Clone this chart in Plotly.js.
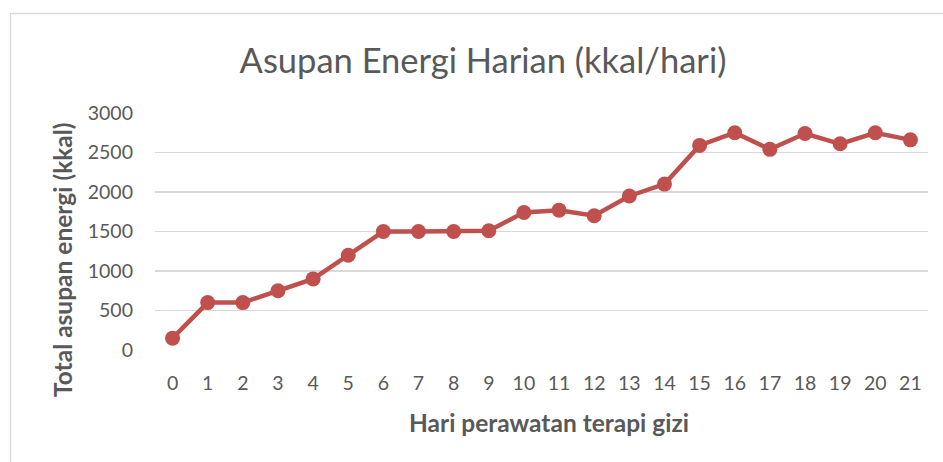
<!DOCTYPE html>
<html>
<head>
<meta charset="utf-8">
<script src="https://cdn.plot.ly/plotly-3.0.1.min.js"></script>
<style>
  html, body { margin: 0; padding: 0; background: #ffffff; }
  #chart { width: 943px; height: 462px; }
</style>
</head>
<body>
<div id="chart"></div>
<script>
const days = [0,1,2,3,4,5,6,7,8,9,10,11,12,13,14,15,16,17,18,19,20,21];
const energy = [150,600,600,750,900,1200,1500,1500,1500,1510,1740,1770,1700,1950,2100,2590,2750,2540,2740,2610,2750,2660];
const yTicks = [0,500,1000,1500,2000,2500,3000];

const chartTitle = 'Asupan Energi Harian (kkal/hari)';
const xTitle = 'Hari perawatan terapi gizi';
const yTitle = 'Total asupan energi (kkal)';

const FONT = 'Lato, Carlito, Calibri, "Open Sans", sans-serif';
const GREY = '#595959';
const RED = '#C0504D';

const trace = {
  x: days,
  y: energy,
  type: 'scatter',
  mode: 'lines+markers',
  line: { color: RED, width: 4.5 },
  marker: { color: RED, size: 15 },
  hoverinfo: 'x+y'
};

const layout = {
  width: 943,
  height: 462,
  margin: { l: 155, r: 15, t: 113, b: 112 },
  paper_bgcolor: '#ffffff',
  plot_bgcolor: '#ffffff',
  showlegend: false,
  font: { family: FONT, color: GREY, size: 19 },
  title: {
    text: chartTitle,
    font: { family: FONT, size: 34.5, color: GREY },
    x: (483 - 155) / 773, xref: 'paper', xanchor: 'center',
    y: 0.868, yref: 'container', yanchor: 'middle'
  },
  xaxis: {
    range: [-0.5, 21.5],
    tickmode: 'array',
    tickvals: days,
    ticktext: days.map(String),
    showgrid: false,
    zeroline: false,
    showline: false,
    ticks: '',
    ticklabelstandoff: 19,
    tickfont: { family: FONT, size: 19.5, color: GREY },
    fixedrange: true
  },
  yaxis: {
    range: [0, 3000],
    tickmode: 'array',
    tickvals: yTicks,
    ticktext: yTicks.map(String),
    showgrid: true,
    gridcolor: '#D9D9D9',
    gridwidth: 1.3,
    zeroline: false,
    showline: false,
    ticks: '',
    ticklabelstandoff: 21,
    tickfont: { family: FONT, size: 19.5, color: GREY },
    fixedrange: true
  },
  annotations: [
    {
      text: '<b>' + xTitle + '</b>',
      xref: 'paper', yref: 'paper',
      x: (549 - 155) / 773, y: (350 - 422) / 237,
      xanchor: 'center', yanchor: 'middle',
      showarrow: false,
      font: { family: FONT, size: 24.5, color: GREY }
    },
    {
      text: '<b>' + yTitle + '</b>',
      xref: 'paper', yref: 'paper',
      x: (62 - 155) / 773, y: (350 - 260) / 237,
      xanchor: 'center', yanchor: 'middle',
      textangle: -90,
      showarrow: false,
      font: { family: FONT, size: 24.5, color: GREY }
    }
  ],
  shapes: [
    {
      type: 'rect', xref: 'paper', yref: 'paper',
      x0: (10.5 - 155) / 773, x1: (960 - 155) / 773,
      y0: (350 - 480) / 237, y1: (350 - 13.5) / 237,
      line: { color: '#D9D9D9', width: 1.3 },
      fillcolor: 'rgba(0,0,0,0)',
      layer: 'below'
    }
  ]
};

Plotly.newPlot('chart', [trace], layout, { displayModeBar: false, staticPlot: true });
</script>
</body>
</html>
